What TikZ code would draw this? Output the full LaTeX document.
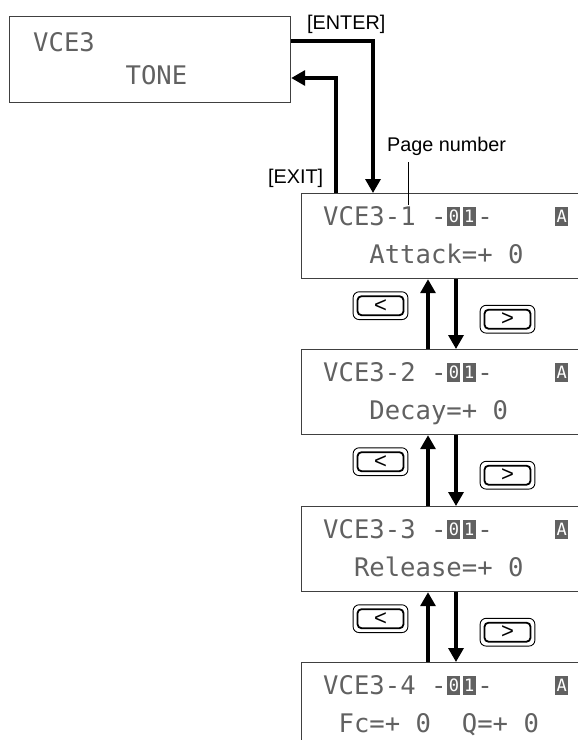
\documentclass[tikz,border=0pt]{standalone}
\usepackage{fontspec}
\setmainfont{Liberation Sans}
\newfontfamily\lcdfont{DejaVu Sans Mono}
\usetikzlibrary{arrows.meta,calc}
\definecolor{lcdgray}{gray}{0.38}
\definecolor{boxline}{gray}{0.25}
\tikzset{
  lcdbox/.style={draw=boxline, line width=1.2pt, minimum width=300pt, minimum height=85pt, anchor=north west, inner sep=0pt},
  lcdtext/.style={anchor=base west, inner sep=0pt, text=lcdgray, font=\lcdfont\fontsize{25.6}{30}\selectfont},
  lcdinv/.style={fill=lcdgray, text=white, minimum width=13pt, minimum height=19pt, inner sep=0pt, font=\lcdfont\fontsize{17}{20}\selectfont},
  lbl/.style={anchor=base west, inner sep=0pt, font=\fontsize{19.8}{24}\selectfont},
  bigarrow/.style={line width=3.3pt, -{Triangle[width=15pt,length=14pt]}},
  btn/.style={draw, line width=1.8pt, rounded corners=4pt, minimum width=46pt, minimum height=19pt, inner sep=0pt, font=\fontsize{22}{26}\selectfont},
  btnouter/.style={line width=0.9pt, rounded corners=6pt},
}
\begin{document}
\begin{tikzpicture}[x=1pt,y=-1pt]
\useasboundingbox (0,0) rectangle (578,740);
\clip (0,0) rectangle (578,740);
% top display
\node[lcdbox, minimum width=281pt, minimum height=86pt] (t) at (9,16) {};
\node[lcdtext] (tl1) at ([shift={(24pt,-35pt)}]t.north west) {VCE3};
\node[lcdtext] (tl2) at ([shift={({24pt+6*15.4pt},-68pt)}]t.north west) {TONE};
% page displays
\foreach \i/\yy/\txt/\ind in {1/193/Attack=+~0/3, 2/349/Decay=+~0/3, 3/506/Release=+~0/2, 4/662/Fc=+~0~~Q=+~0/1}{
  \node[lcdbox] (b\i) at (301,\yy) {};
  \node[lcdtext] (b\i l1) at ([shift={(22pt,-32pt)}]b\i.north west) {VCE3-\i~-~~-};
  \node[lcdinv] (b\i c0) at ([shift={({22pt+8.5*15.4pt},-23pt)}]b\i.north west) {0};
  \node[lcdinv] (b\i c1) at ([shift={({22pt+9.5*15.4pt},-23pt)}]b\i.north west) {1};
  \node[lcdinv] (b\i cA) at ([shift={({22pt+15.5*15.4pt},-23pt)}]b\i.north west) {A};
  \node[lcdtext] (b\i l2) at ([shift={({22pt+\ind*15.4pt},-70pt)}]b\i.north west) {\txt};
}
% labels
\node[lbl] (enter) at (307,29) {[ENTER]};
\node[lbl] (exit) at (268,183) {[EXIT]};
\node[lbl] (pn) at (387,151) {Page number};
% ENTER / EXIT arrows
\draw[bigarrow] ([yshift=-25pt]t.north east) -| ([xshift=72pt]b1.north west);
\draw[bigarrow] ([xshift=35pt]b1.north west) |- ([yshift=-62pt]t.north east);
% page number pointer
\coordinate (pntip) at ([shift={(107pt,-12pt)}]b1.north west);
\draw[line width=0.9pt] ([yshift=-7pt]pntip |- pn.south) -- (pntip);
% arrows and buttons between pages
\foreach \i/\j in {1/2,2/3,3/4}{
  \draw[bigarrow] ([xshift=127pt]b\j.north west) -- ([xshift=127pt]b\i.south west);
  \draw[bigarrow] ([xshift=155pt]b\i.south west) -- ([xshift=155pt]b\j.north west);
  \node[btn] (prev\i) at ([shift={(79.5pt,-26.5pt)}]b\i.south west) {<};
  \draw[btnouter] ([shift={(-3.5pt,3.5pt)}]prev\i.north west) rectangle ([shift={(3.5pt,-3.5pt)}]prev\i.south east);
  \node[btn] (next\i) at ([shift={(206.5pt,-40pt)}]b\i.south west) {>};
  \draw[btnouter] ([shift={(-3.5pt,3.5pt)}]next\i.north west) rectangle ([shift={(3.5pt,-3.5pt)}]next\i.south east);
}
\end{tikzpicture}
\end{document}
